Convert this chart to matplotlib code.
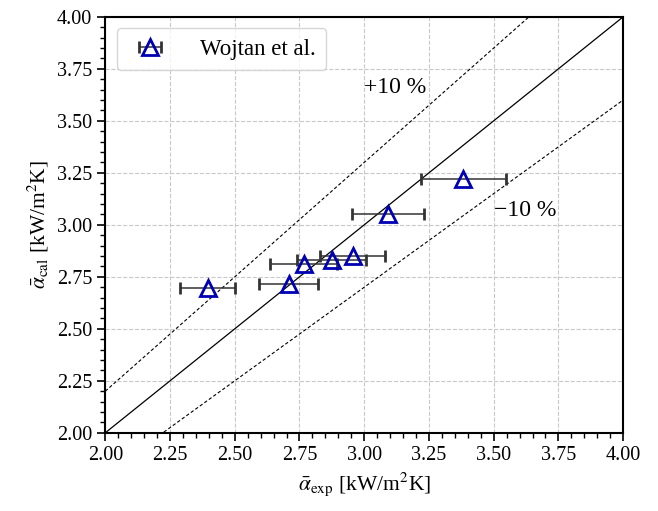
#!/usr/bin/env python
#-*- coding: utf-8 -*-

import numpy as np
import matplotlib
matplotlib.use('Agg')
import matplotlib.pyplot as plt
from matplotlib.ticker import MultipleLocator

# Wojtan et al. data
alpha_exp = [2.396, 2.708, 2.766, 2.875, 2.955, 3.091, 3.383]
alpha_cal = [2.696, 2.716, 2.811, 2.832, 2.848, 3.051, 3.221]
exp_err = [0.106, 0.113, 0.129, 0.133, 0.125, 0.139, 0.164]

plt.rcParams['font.family'] = ['Liberation Serif', 'DejaVu Serif']
plt.rcParams['mathtext.fontset'] = 'stix'
plt.rcParams['font.size'] = 14

fig = plt.figure(figsize=(6.58, 5.11), dpi=100)
ax = fig.add_axes([0.16, 0.153, 0.787, 0.814])

line = np.array([2.0, 4.0])
ax.plot(line, line, color='k', lw=0.9)
ax.plot(line, 1.1 * line, color='k', lw=0.8, ls='--', dashes=(3, 2))
ax.plot(line, 0.9 * line, color='k', lw=0.8, ls='--', dashes=(3, 2))

ax.errorbar(alpha_exp, alpha_cal, xerr=exp_err, fmt='^', ms=12,
            mfc='none', mec='#0000b4', mew=2, ecolor='#333333',
            elinewidth=1.1, capsize=4, capthick=1.0, label='Wojtan et al.',
            zorder=3)

ax.text(3.0, 3.66, '+10 %', ha='left', va='center', fontsize=17)
ax.text(3.5, 3.07, '\u221210 %', ha='left', va='center', fontsize=17)

ax.set_xlim(2.0, 4.0)
ax.set_ylim(2.0, 4.0)
ax.xaxis.set_major_locator(MultipleLocator(0.25))
ax.yaxis.set_major_locator(MultipleLocator(0.25))
ax.xaxis.set_minor_locator(MultipleLocator(0.05))
ax.yaxis.set_minor_locator(MultipleLocator(0.05))
ax.xaxis.set_major_formatter('{x:.2f}')
ax.yaxis.set_major_formatter('{x:.2f}')
ax.tick_params(which='major', length=6, width=1.2, labelsize=14.5)
ax.tick_params(which='minor', length=3.5, width=1.0)
for s in ax.spines.values():
    s.set_linewidth(1.5)

ax.grid(True, which='major', ls='--', color='#c8c8c8', lw=0.8)

ax.set_xlabel(r'$\bar{\alpha}_{\mathrm{exp}}$ [kW/m$^2$K]', fontsize=15.5)
ax.set_ylabel(r'$\bar{\alpha}_{\mathrm{cal}}$ [kW/m$^2$K]', fontsize=15.5)

ax.legend(loc='upper left', fontsize=16.5, handletextpad=1.2, borderpad=0.45,
          handlelength=2.0, borderaxespad=0.5, fancybox=True, framealpha=0.8)

fig.savefig('out.png', dpi=100)
